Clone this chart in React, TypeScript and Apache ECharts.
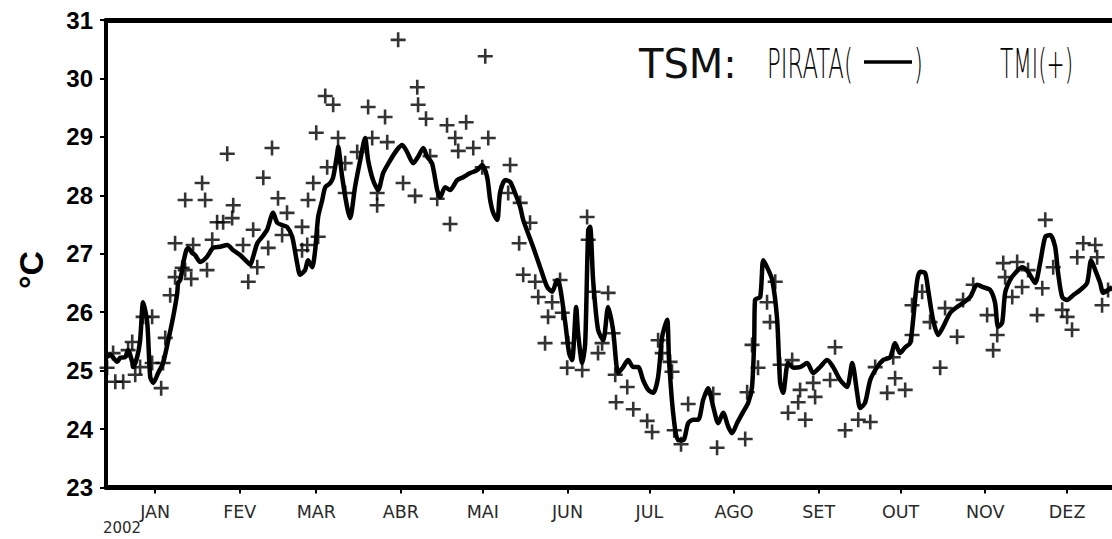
import React, { useEffect, useRef } from "react";
import * as echarts from "echarts";

// Month ticks (day of year 2002, 0 = 1 Jan)
const monthNames = ["JAN", "FEV", "MAR", "ABR", "MAI", "JUN", "JUL", "AGO", "SET", "OUT", "NOV", "DEZ"];
const monthStarts = [0, 31, 59, 90, 120, 151, 181, 212, 243, 273, 304, 334];
const yearLabel = "2002";

// PIRATA buoy SST (line)
const pirataDays = [
  -17.6, -16.5, -13.9, -12.8, -11.0, -9.9, -8.4, -8.1, -6.6, -5.5, -4.4, -2.9, -1.8, -0.7, 1.1, 2.9, 4.8, 6.6, 8.1, 8.4,
  9.2, 10.3, 11.4, 12.1, 13.6, 14.6, 16.5, 19.0, 21.2, 23.8, 26.4, 28.6, 31.1, 33.7, 34.8, 35.9, 37.4, 39.2, 41.0, 43.2,
  44.7, 46.5, 48.3, 50.2, 52.0, 53.1, 54.9, 56.0, 57.5, 58.6, 59.7, 61.2, 62.3, 64.1, 65.2, 66.7, 67.0, 68.5, 70.3, 71.4,
  73.2, 75.1, 76.9, 78.0, 79.8, 81.7, 83.5, 86.1, 88.6, 90.5, 92.3, 94.5, 96.3, 98.2, 99.6, 101.4, 103.3, 104.4, 106.2, 108.0,
  110.6, 112.8, 115.4, 117.9, 119.8, 121.6, 122.7, 123.8, 125.3, 126.3, 128.2, 130.0, 131.8, 133.7, 134.8, 138.4, 141.0, 143.6, 145.4, 147.2,
  148.3, 150.2, 151.6, 152.7, 154.2, 154.9, 156.4, 157.5, 158.6, 159.3, 160.4, 162.2, 164.1, 165.9, 167.7, 169.6, 171.4, 173.2, 175.1, 176.9,
  178.7, 180.6, 182.4, 184.2, 185.7, 187.5, 188.2, 189.7, 191.5, 193.4, 195.2, 197.0, 198.9, 200.7, 202.5, 204.4, 206.2, 208.0, 209.9, 211.3,
  213.1, 215.3, 217.2, 218.6, 219.4, 219.7, 221.6, 222.7, 224.1, 226.0, 227.8, 228.9, 230.0, 231.8, 233.7, 236.2, 238.8, 241.0, 243.5, 246.1,
  248.3, 250.9, 253.4, 255.3, 257.1, 258.2, 260.0, 261.9, 264.4, 266.6, 269.2, 271.0, 272.8, 274.7, 276.5, 277.6, 279.1, 280.2, 282.0, 283.1,
  284.9, 286.8, 288.6, 291.2, 293.7, 295.9, 298.5, 301.0, 303.2, 305.8, 307.6, 308.7, 310.2, 311.3, 313.1, 315.0, 317.5, 319.7, 322.3, 324.1,
  326.0, 327.8, 329.6, 330.7, 332.2, 334.0, 336.2, 338.8, 341.3, 342.8, 344.3, 346.1, 347.2, 349.0, 350.5
];
const pirataTemps = [
  25.23, 25.27, 25.15, 25.22, 25.23, 25.35, 25.15, 25.06, 25.23, 25.52, 26.17, 25.82, 24.89, 24.79, 24.96, 25.13, 25.52, 25.92, 26.33, 26.5,
  26.55, 26.84, 27.06, 27.1, 27.01, 26.98, 26.86, 26.95, 27.1, 27.12, 27.15, 27.06, 26.98, 26.86, 26.81, 26.95, 27.18, 27.29, 27.41, 27.7,
  27.53, 27.49, 27.46, 27.29, 26.84, 26.64, 26.72, 26.89, 26.77, 27.06, 27.63, 27.92, 28.14, 28.21, 28.31, 28.72, 28.83, 28.31, 27.8, 27.61,
  28.14, 28.6, 28.98, 28.6, 28.26, 28.09, 28.38, 28.6, 28.78, 28.86, 28.74, 28.55, 28.66, 28.81, 28.66, 28.55, 28.09, 27.97, 28.14, 28.09,
  28.26, 28.31, 28.38, 28.43, 28.52, 28.31, 27.92, 27.7, 27.58, 28.04, 28.26, 28.23, 28.04, 27.8, 27.58, 27.12, 26.77, 26.43, 26.35, 26.55,
  26.43, 25.82, 25.3, 25.18, 26.09, 25.64, 25.13, 25.47, 27.41, 27.46, 26.55, 25.7, 25.52, 26.09, 25.7, 24.96, 25.06, 25.18, 25.06, 25.06,
  24.84, 24.67, 24.62, 24.89, 25.58, 25.87, 25.18, 24.28, 23.81, 23.81, 24.1, 24.16, 24.16, 24.5, 24.7, 24.38, 24.1, 24.28, 24.04, 23.93,
  24.1, 24.29, 24.45, 24.72, 25.52, 26.21, 26.26, 26.89, 26.77, 26.55, 25.87, 24.79, 24.62, 25.13, 25.05, 25.06, 25.13, 24.96, 25.06, 25.18,
  25.06, 24.84, 24.72, 25.13, 24.62, 24.36, 24.45, 24.84, 25.06, 25.18, 25.23, 25.47, 25.3, 25.4, 25.47, 25.87, 26.55, 26.69, 26.67, 26.38,
  25.87, 25.61, 25.75, 25.99, 26.09, 26.16, 26.26, 26.47, 26.43, 26.38, 26.16, 25.75, 25.82, 26.33, 26.55, 26.67, 26.77, 26.69, 26.5, 26.84,
  27.29, 27.32, 27.12, 26.67, 26.26, 26.21, 26.29, 26.38, 26.5, 26.89, 26.72, 26.5, 26.33, 26.38, 26.43
];

// TMI satellite SST (+)
const tmiDays = [
  -17.6, -15.4, -14.6, -11.7, -9.9, -8.4, -7.3, -5.5, -4.4, -1.1, -1.1, 2.9, 3.7, 2.2, 5.5, 7.3, 7.3, 11.0, 13.2, 9.9,
  13.9, 19.0, 20.9, 17.2, 11.0, 18.3, 26.4, 22.7, 24.9, 28.2, 28.6, 32.2, 34.1, 35.9, 37.4, 39.6, 41.4, 42.8, 45.0, 48.3,
  46.5, 53.8, 55.7, 53.8, 56.0, 57.9, 59.7, 63.0, 69.6, 69.6, 59.0, 62.3, 65.2, 67.0, 74.0, 78.0, 79.5, 81.3, 81.3, 84.2,
  85.0, 89.0, 90.8, 95.2, 96.0, 96.3, 99.2, 100.7, 103.3, 106.9, 108.0, 109.9, 111.0, 113.9, 116.5, 119.8, 120.9, 122.0, 129.3, 130.0,
  133.7, 133.3, 137.3, 134.8, 139.2, 140.3, 145.4, 143.9, 142.8, 148.3, 149.1, 151.3, 150.9, 156.4, 158.2, 158.6, 160.4, 165.9, 167.7, 162.2,
  163.7, 184.2, 185.7, 188.6, 189.3, 168.5, 172.9, 168.8, 175.1, 180.2, 182.0, 190.1, 192.6, 195.2, 204.4, 205.8, 216.1, 216.8, 218.6, 220.8,
  224.1, 225.2, 227.1, 228.9, 233.3, 231.8, 235.5, 238.1, 236.2, 241.0, 241.7, 247.2, 249.0, 252.7, 257.5, 261.9, 263.7, 268.1, 271.0, 274.7,
  270.3, 277.2, 280.9, 283.8, 277.2, 287.5, 289.3, 293.7, 295.9, 299.6, 304.7, 306.9, 308.4, 310.6, 315.7, 311.3, 313.9, 317.5, 319.7, 324.9,
  323.0, 326.0, 328.9, 332.2, 334.0, 335.8, 337.7, 339.9, 344.3, 345.0, 346.8, 349.0
];
const tmiTemps = [
  25.05, 25.3, 24.81, 24.81, 25.35, 25.49, 24.93, 25.06, 25.92, 25.92, 25.13, 25.13, 25.56, 24.7, 26.29, 26.6, 27.18, 26.72, 26.57, 26.76,
  27.15, 26.72, 27.24, 28.21, 27.92, 27.92, 28.71, 27.54, 27.54, 27.61, 27.83, 27.15, 26.52, 27.41, 26.77, 28.3, 27.1, 28.81, 27.95, 27.7,
  27.32, 27.46, 27.15, 27.06, 27.92, 28.21, 27.29, 28.48, 28.55, 28.04, 29.07, 29.7, 29.55, 28.98, 28.74, 29.51, 28.98, 28.04, 27.83, 29.34,
  28.91, 30.66, 28.21, 27.99, 29.85, 29.55, 29.31, 28.67, 27.94, 29.2, 27.51, 28.98, 28.76, 29.25, 28.81, 28.48, 30.38, 28.98, 28.04, 28.52,
  27.87, 27.18, 27.53, 26.64, 26.52, 26.26, 26.17, 25.92, 25.47, 26.55, 25.99, 25.47, 25.05, 25.01, 27.63, 27.24, 26.35, 26.33, 25.64, 25.3,
  25.47, 25.52, 25.3, 25.15, 24.98, 24.93, 24.72, 24.46, 24.34, 24.14, 23.95, 23.98, 23.74, 24.43, 24.6, 23.68, 23.83, 24.63, 25.44, 25.05,
  26.17, 25.83, 26.52, 25.1, 25.18, 24.28, 24.46, 24.16, 24.67, 24.79, 24.55, 24.84, 25.4, 23.98, 24.16, 24.12, 25.06, 24.62, 24.87, 24.67,
  25.23, 26.12, 26.35, 25.83, 25.61, 25.05, 26.07, 25.58, 26.21, 26.47, 25.95, 25.35, 25.61, 26.84, 26.86, 26.6, 26.26, 26.43, 26.72, 26.41,
  25.95, 27.58, 26.77, 26.04, 25.92, 25.7, 26.94, 27.18, 27.15, 26.94, 26.12, 26.38
];

const plusPath = "path://M6.2,0h2.6v6.2h6.2v2.6h-6.2v6.2h-2.6v-6.2h-6.2v-2.6h6.2z";

export default function App() {
  const ref = useRef<HTMLDivElement>(null);

  useEffect(() => {
    if (!ref.current) return;
    const chart = echarts.init(ref.current, null, { renderer: "svg" });
    const lineData = pirataDays.map((d, i) => [d, pirataTemps[i]]);
    const tmiData = tmiDays.map((d, i) => [d, tmiTemps[i]]);

    const condensed = (text: string, x: number, sx: number) => ({
      type: "text",
      x,
      y: 64,
      scaleX: sx,
      style: {
        text,
        fontFamily: "DejaVu Sans",
        fontWeight: 200,
        fontSize: 40,
        fill: "#000",
        align: "left",
        verticalAlign: "middle",
      },
    });

    chart.setOption({
      animation: false,
      backgroundColor: "#ffffff",
      grid: { left: 106, top: 20, right: 11, bottom: 51.5, containLabel: false },
      xAxis: [
        {
          type: "value",
          min: -18,
          max: 353,
          position: "bottom",
          splitLine: { show: false },
          axisLine: { show: true, onZero: false, lineStyle: { color: "#000", width: 5 } },
          axisTick: {
            show: true,
            customValues: monthStarts,
            length: 6,
            lineStyle: { color: "#000", width: 2 },
          },
          axisLabel: {
            customValues: monthStarts,
            formatter: (v: number) => {
              const i = monthStarts.indexOf(Math.round(v));
              return i >= 0 ? monthNames[i] : "";
            },
            fontFamily: "DejaVu Sans",
            fontSize: 17.5,
            color: "#2a2a2a",
            margin: 15,
          },
        },
        {
          type: "value",
          min: -18,
          max: 353,
          position: "top",
          splitLine: { show: false },
          axisLine: { show: true, onZero: false, lineStyle: { color: "#000", width: 5 } },
          axisTick: { show: false },
          axisLabel: { show: false },
        },
      ],
      yAxis: {
        type: "value",
        min: 23,
        max: 31,
        interval: 1,
        splitLine: { show: false },
        axisLine: { show: true, onZero: false, lineStyle: { color: "#000", width: 4 } },
        axisTick: { show: true, length: 6, lineStyle: { color: "#000", width: 2 } },
        axisLabel: {
          fontFamily: "Liberation Sans",
          fontWeight: "bold",
          fontSize: 24,
          color: "#000",
          margin: 13,
        },
      },
      series: [
        {
          name: "TMI",
          type: "scatter",
          data: tmiData,
          symbol: plusPath,
          symbolSize: 15,
          itemStyle: { color: "#000" },
          z: 3,
        },
        {
          name: "PIRATA",
          type: "line",
          data: lineData,
          showSymbol: false,
          smooth: 0.25,
          lineStyle: { color: "#000", width: 4.5 },
          z: 2,
        },
      ],
      graphic: [
        {
          type: "text",
          x: 31,
          y: 270,
          rotation: Math.PI / 2,
          style: {
            text: "°C",
            fontFamily: "Liberation Sans",
            fontWeight: "bold",
            fontSize: 34,
            fill: "#000",
            align: "center",
            verticalAlign: "middle",
          },
        },
        {
          type: "text",
          x: 122,
          y: 528,
          style: {
            text: yearLabel,
            fontFamily: "DejaVu Sans",
            fontSize: 15,
            fill: "#2a2a2a",
            align: "center",
            verticalAlign: "middle",
          },
        },
        {
          type: "text",
          x: 639,
          y: 64,
          style: {
            text: "TSM:",
            fontFamily: "DejaVu Sans",
            fontSize: 40,
            fill: "#111",
            align: "left",
            verticalAlign: "middle",
          },
        },
        condensed("PIRATA(", 767, 0.57),
        {
          type: "line",
          shape: { x1: 864, y1: 62, x2: 912, y2: 62 },
          style: { stroke: "#000", lineWidth: 3.5 },
        },
        condensed(")", 914, 0.57),
        condensed("TMI(+)", 1000, 0.54),
      ],
    });

    return () => {
      chart.dispose();
    };
  }, []);

  return (
    <div
      style={{
        position: "absolute",
        left: 0,
        top: 0,
        width: 1112,
        height: 539,
        overflow: "hidden",
        background: "#fff",
      }}
    >
      <div ref={ref} style={{ width: 1130, height: 539 }} />
    </div>
  );
}
